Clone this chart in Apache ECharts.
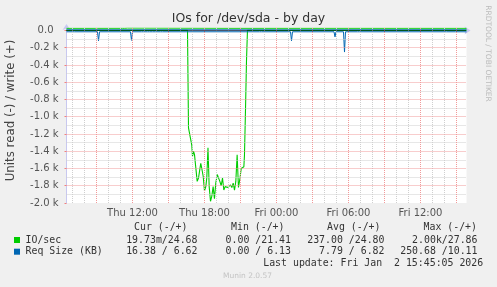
<!DOCTYPE html>
<html><head><meta charset="utf-8">
<script src="https://cdn.jsdelivr.net/npm/echarts@6/dist/echarts.min.js"></script>
<style>html,body{margin:0;padding:0;background:#F0F0F0}#c{width:497px;height:287px}</style>
</head><body><div id="c"></div><script>
// x values are hours since Thu 00:00 (Thu Jan 1 2026)
const readIoHours = [6.5, 12.0, 16.583, 16.667, 16.75, 16.833, 16.94, 17.0, 17.083, 17.167, 17.275, 17.39, 17.5, 17.61, 17.69, 17.775, 17.89, 18.0, 18.11, 18.19, 18.29, 18.39, 18.5, 18.61, 18.72, 18.83, 18.94, 19.06, 19.17, 19.28, 19.39, 19.5, 19.61, 19.72, 19.83, 19.94, 20.06, 20.17, 20.28, 20.39, 20.5, 20.61, 20.72, 20.83, 20.94, 21.06, 21.17, 21.28, 21.33, 21.42, 21.5, 21.58, 30.0, 39.833];
const readIoValues = [0, 0, 0, 1130, 1130, 1250, 1330, 1460, 1400, 1440, 1590, 1750, 1710, 1610, 1540, 1600, 1690, 1860, 1810, 1710, 1360, 1810, 1980, 1920, 1810, 1950, 1770, 1670, 1690, 1750, 1800, 1710, 1850, 1810, 1830, 1820, 1840, 1790, 1820, 1770, 1850, 1750, 1440, 1820, 1730, 1600, 1610, 1580, 1450, 900, 350, 0, 0, 0.02];
const writeIoHours = [6.5, 8.9, 9.0, 9.1, 11.0, 11.083, 11.167, 11.35, 11.42, 11.5, 11.58, 11.67, 20.0, 30.0, 39.833];
const writeIoValues = [24.7, 24.7, 27.2, 24.8, 24.8, 27.0, 24.8, 24.8, 27.4, 24.9, 27.1, 24.7, 24.9, 24.8, 24.68];
const readSizeHours = [6.5, 7.0, 7.083, 7.167, 9.083, 9.167, 9.25, 11.833, 11.917, 12.0, 12.75, 12.833, 12.917, 13.25, 13.333, 13.417, 13.667, 13.75, 13.833, 13.917, 14.0, 14.083, 14.333, 14.417, 14.5, 22.583, 22.667, 22.75, 25.167, 25.25, 25.333, 28.792, 28.875, 28.958, 29.583, 29.667, 29.75, 30.75, 30.833, 30.917, 38.167, 38.25, 38.333, 38.917, 39.0, 39.083, 39.625, 39.708, 39.833];
const readSizeValues = [16, 16, 35, 16, 16, 120, 16, 16, 115, 16, 16, 28, 16, 16, 28, 16, 16, 28, 16, 16, 28, 16, 16, 28, 16, 16, 25, 16, 16, 120, 16, 16, 75, 16, 16, 250.68, 16, 16, 25, 16, 16, 28, 16, 16, 28, 16, 16, 28, 16.38];
const writeSizeHours = [6.5, 12.0, 18.0, 24.0, 30.0, 36.0, 39.833];
const writeSizeValues = [6.9, 6.5, 7.2, 6.13, 6.8, 7.0, 6.62];

const xMin = 6.5, xMax = 39.8333;
const xMinorTicks = [7,8,10,11,13,14,16,17,19,20,22,23,25,26,28,29,31,32,34,35,37,38];
const xMajorTicks = [9,12,15,18,21,24,27,30,33,36,39];
const xLabelHours = [12, 18, 24, 30, 36];
const xLabelTexts = ['Thu 12:00', 'Thu 18:00', 'Fri 00:00', 'Fri 06:00', 'Fri 12:00'];
const yMin = -2000, yMax = 28;
const yMinorTicks = [-1900,-1700,-1500,-1300,-1100,-900,-700,-500,-300,-100];
const yMajorTicks = [-2000,-1800,-1600,-1400,-1200,-1000,-800,-600,-400,-200,0];
const yLabelTexts = ['-2.0 k','-1.8 k','-1.6 k','-1.4 k','-1.2 k','-1.0 k','-0.8 k','-0.6 k','-0.4 k','-0.2 k','0.0'];

const legendHeader = ['Cur (-/+)', 'Min (-/+)', 'Avg (-/+)', 'Max (-/+)'];
const legendNames = ['IO/sec', 'Req Size (KB)'];
const legendRows = [
  ['19.73m/24.68', '0.00 /21.41', '237.00 /24.80', '2.00k/27.86'],
  ['16.38 / 6.62', '0.00 / 6.13', '7.79 / 6.82', '250.68 /10.11']
];
const colors = ['#00CC00', '#0066B3'];

const pair = (xs, ys, sign) => xs.map((x, i) => [x, sign * ys[i]]);

const axisColor = '#C8C8F0';
const minorColor = '#CFCFCF';
const majorColor = '#F19A9A';
const sans = 'DejaVu Sans';

const gridLines = [].concat(
  xMinorTicks.map(v => ({xAxis: v, lineStyle: {color: minorColor, type: [1, 1], width: 1}})),
  yMinorTicks.map(v => ({yAxis: v, lineStyle: {color: minorColor, type: [1, 1], width: 1}})),
  xMajorTicks.map(v => ({xAxis: v, lineStyle: {color: majorColor, type: [1, 1], width: 1}})),
  yMajorTicks.filter(v => v !== yMin && v !== 0).map(v => ({yAxis: v, lineStyle: {color: majorColor, type: [1, 1], width: 1}}))
);

const chart = echarts.init(document.getElementById('c'), null, {renderer: 'canvas'});
const graphic = [];
graphic.push({type:'text', x:248.5, y:19, style:{text:'IOs for /dev/sda - by day', font:'12.5px "DejaVu Sans"', fill:'#333', align:'center', verticalAlign:'middle'}});
graphic.push({type:'text', x:10.5, y:110.5, rotation:Math.PI/2, style:{text:'Units read (-) / write (+)', font:'11.8px "DejaVu Sans"', fill:'#444', align:'center', verticalAlign:'middle'}});
graphic.push({type:'text', x:488, y:53.5, rotation:-Math.PI/2, style:{text:'RRDTOOL / TOBI OETIKER', font:'7.5px "DejaVu Sans"', fill:'#BBBBBB', align:'center', verticalAlign:'middle'}});
const colRight = [197.5, 291, 384.5, 477.5];
const headRight = [187.5, 284.5, 380.5, 477];
const rowY = [240, 251.7];
legendHeader.forEach((t, i) => graphic.push({type:'text', x:headRight[i], y:227.3, style:{text:t, font:'9.9px "DejaVu Sans Mono"', fill:'#333', align:'right', verticalAlign:'middle'}}));
legendNames.forEach((n, r) => {
  graphic.push({type:'rect', shape:{x:14, y:rowY[r]-3, width:6, height:6}, style:{fill:colors[r]}});
  graphic.push({type:'text', x:25.5, y:rowY[r], style:{text:n, font:'9.9px "DejaVu Sans Mono"', fill:'#333', align:'left', verticalAlign:'middle'}});
  legendRows[r].forEach((t, i) => graphic.push({type:'text', x:colRight[i], y:rowY[r], style:{text:t, font:'9.9px "DejaVu Sans Mono"', fill:'#333', align:'right', verticalAlign:'middle'}}));
});
graphic.push({type:'text', x:483.2, y:263.3, style:{text:'Last update: Fri Jan  2 15:45:05 2026', font:'9.9px "DejaVu Sans Mono"', fill:'#333', align:'right', verticalAlign:'middle'}});
graphic.push({type:'text', x:247.5, y:276.3, style:{text:'Munin 2.0.57', font:'7.5px "DejaVu Sans"', fill:'#C4C4C4', align:'center', verticalAlign:'middle'}});

const option = {
  animation: false,
  backgroundColor: '#F0F0F0',
  textStyle: {fontFamily: sans},
  grid: {left: 66.5, right: 30.5, top: 28, bottom: 84, show: true, backgroundColor: '#FFFFFF', borderWidth: 0},
  xAxis: {type:'value', min:xMin, max:xMax, position:'bottom',
     axisLine:{show:true, lineStyle:{color:axisColor, width:1}, symbol:['none','arrow'], symbolSize:[6,6], symbolOffset:[0,4]},
     axisTick:{show:true, customValues:xMajorTicks, length:2, lineStyle:{color:'#F08080'}},
     splitLine:{show:false},
     axisLabel:{show:true, customValues:xLabelHours, formatter:(v)=>xLabelTexts[xLabelHours.indexOf(v)], color:'#555', fontSize:10, fontFamily:sans, margin:5}},
  yAxis: {type:'value', min:yMin, max:yMax, position:'left',
     axisLine:{show:true, lineStyle:{color:axisColor, width:1}, symbol:['none','arrow'], symbolSize:[6,6], symbolOffset:[0,4]},
     axisTick:{show:true, customValues:yMajorTicks, length:2, lineStyle:{color:'#F08080'}},
     splitLine:{show:false},
     axisLabel:{show:true, customValues:yMajorTicks, formatter:(v)=>{const t=yLabelTexts[yMajorTicks.indexOf(v)]; return v===0 ? t+'\u2002' : t;}, color:'#555', fontSize:10, fontFamily:sans, margin:8}},
  series: [
    {name:'grid', type:'line', data:[], z:1, silent:true,
     markLine:{silent:true, symbol:['none','none'], label:{show:false}, emphasis:{disabled:true}, data:gridLines}},
    {name:'IO/sec read', type:'line', z:3, data:pair(readIoHours, readIoValues, -1), symbol:'none', color:colors[0], lineStyle:{width:1.1, color:colors[0]}},
    {name:'IO/sec write', type:'line', z:3, data:pair(writeIoHours, writeIoValues, 1), symbol:'none', color:colors[0], lineStyle:{width:1, color:colors[0]}},
    {name:'Req Size read', type:'line', z:3, data:pair(readSizeHours, readSizeValues, -1), symbol:'none', color:colors[1], lineStyle:{width:1, color:colors[1]}},
    {name:'Req Size write', type:'line', z:3, data:pair(writeSizeHours, writeSizeValues, 1), symbol:'none', color:colors[1], lineStyle:{width:1, color:colors[1]},
     markLine:{silent:true, symbol:['none','none'], label:{show:false}, lineStyle:{color:'#000', type:[1,1], width:1}, data:[{yAxis:0}]}}
  ],
  graphic: graphic
};
chart.setOption(option);
</script></body></html>
